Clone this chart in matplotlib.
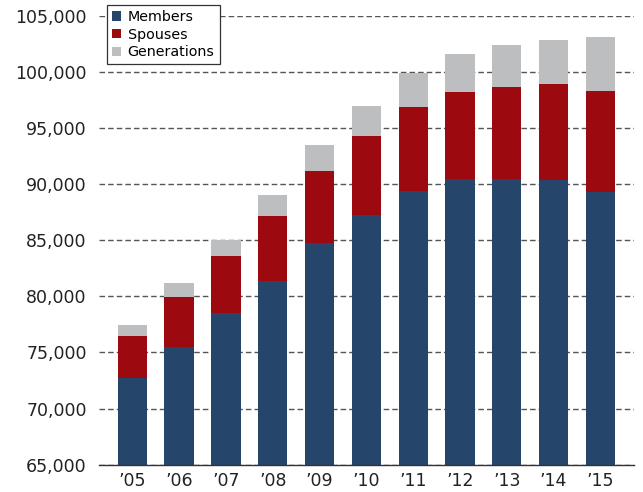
import matplotlib
matplotlib.use("Agg")
import matplotlib.pyplot as plt
import numpy as np
from matplotlib.ticker import FuncFormatter

years = ["’05", "’06", "’07", "’08", "’09", "’10", "’11", "’12", "’13", "’14", "’15"]
members = [72750, 75470, 78500, 81370, 84750, 87240, 89380, 90440, 90440, 90350, 89290]
members_plus_spouses = [76480, 79950, 83590, 87150, 91160, 94270, 96850, 98180, 98630, 98900, 98270]
totals = [77450, 81190, 85020, 89020, 93470, 96940, 99900, 101570, 102370, 102810, 103080]

spouses = [s - m for s, m in zip(members_plus_spouses, members)]
generations = [t - s for t, s in zip(totals, members_plus_spouses)]

c_mem = "#26456A"
c_sp = "#9C0A10"
c_gen = "#BDBEC0"

plt.rcParams['font.family'] = ['DejaVu Sans']

fig = plt.figure(figsize=(6.43, 4.92), dpi=100)
ax = fig.add_axes([0.1544, 0.0555, 0.8311, 0.9125])

x = np.arange(len(years))
base = 65000
w = 0.626
ax.bar(x, np.array(members) - base, w, bottom=base, color=c_mem, label="Members", zorder=3)
ax.bar(x, spouses, w, bottom=members, color=c_sp, label="Spouses", zorder=3)
ax.bar(x, generations, w, bottom=members_plus_spouses, color=c_gen, label="Generations", zorder=3)

ax.set_xlim(-0.705, 10.71)
ax.set_ylim(65000, 105000)
ax.set_yticks(np.arange(65000, 105001, 5000))
ax.yaxis.set_major_formatter(FuncFormatter(lambda v, p: f"{int(v):,}"))
ax.set_xticks(x)
ax.set_xticklabels(years)

for sp in ["top", "right", "left"]:
    ax.spines[sp].set_visible(False)
ax.spines["bottom"].set_color("#333333")
ax.spines["bottom"].set_linewidth(1.0)
ax.spines["bottom"].set_zorder(4)

ax.yaxis.grid(True, linestyle=(0, (4, 2.2)), color="#555555", linewidth=1.0, zorder=0)
ax.set_axisbelow(True)
ax.tick_params(axis="y", length=0, labelsize=12.5, colors="#222222", pad=9)
ax.tick_params(axis="x", length=0, labelsize=12.5, colors="#222222", pad=5.5)

leg = ax.legend(loc="upper left", bbox_to_anchor=(107/643, 1 - 5/492), bbox_transform=fig.transFigure,
                frameon=True, fancybox=False, fontsize=10.3, handlelength=0.6, handleheight=0.6,
                handletextpad=0.5, labelspacing=0.25, borderpad=0.35, borderaxespad=0)
leg.get_frame().set_edgecolor("#333333")
leg.get_frame().set_linewidth(0.9)
leg.get_frame().set_alpha(1)
leg.set_zorder(10)

fig.savefig("out.png", dpi=100)
